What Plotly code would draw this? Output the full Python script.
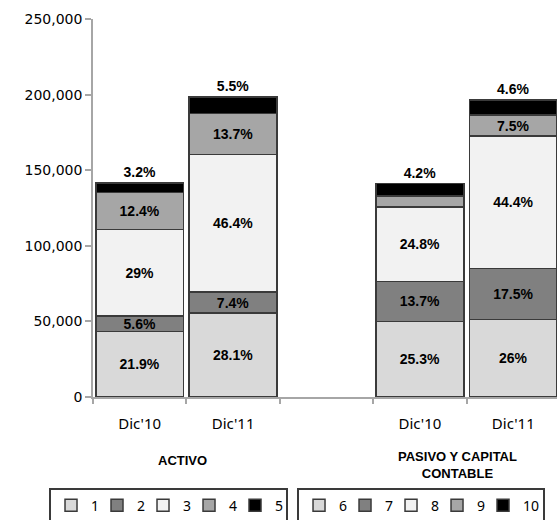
import plotly.graph_objects as go

# groups and their bar categories
GROUPS = ["ACTIVO", "PASIVO Y CAPITAL<br>CONTABLE"]
CATEGORIES = ["Dic'10", "Dic'11"]

# stacked segment values, [Dic'10, Dic'11]
S1 = [43300, 55500]
S2 = [10400, 13900]
S3 = [57000, 91100]
S4 = [24400, 26900]
S5 = [6600, 11100]
S6 = [49900, 51100]
S7 = [26600, 33800]
S8 = [49000, 87700]
S9 = [7300, 13900]
S10 = [8400, 10000]

# data labels
L1 = ["21.9%", "28.1%"]
L2 = ["5.6%", "7.4%"]
L3 = ["29%", "46.4%"]
L4 = ["12.4%", "13.7%"]
L5 = ["3.2%", "5.5%"]
L6 = ["25.3%", "26%"]
L7 = ["13.7%", "17.5%"]
L8 = ["24.8%", "44.4%"]
L9 = ["", "7.5%"]
L10 = ["4.2%", "4.6%"]

SERIES_NAMES = ["1", "2", "3", "4", "5", "6", "7", "8", "9", "10"]

Y_TICKS = [0, 50000, 100000, 150000, 200000, 250000]

COLORS = ["#d9d9d9", "#808080", "#f2f2f2", "#a6a6a6", "#000000"]
OUTLINE = "#3a3a3a"
AXIS_GRAY = "#a6a6a6"

activo = [(S1, L1), (S2, L2), (S3, L3), (S4, L4), (S5, L5)]
pasivo = [(S6, L6), (S7, L7), (S8, L8), (S9, L9), (S10, L10)]

# slot positions: two bars, empty slot, two bars
activo_x = [0, 1]
pasivo_x = [3, 4]

fig = go.Figure()

for g, (group, xs) in enumerate([(activo, activo_x), (pasivo, pasivo_x)]):
    for i, (vals, labels) in enumerate(group):
        top = i == len(group) - 1
        name = SERIES_NAMES[g * 5 + i]
        fig.add_trace(go.Bar(
            x=xs,
            y=vals,
            name=name,
            text=labels,
            textposition="outside" if top else "inside",
            insidetextanchor="middle",
            constraintext="none",
            cliponaxis=False,
            textfont=dict(family="Liberation Sans", size=14, color="black", weight="bold"),
            marker=dict(color=COLORS[i], line=dict(color=OUTLINE, width=1.5)),
            width=0.94,
            legend="legend" if g == 0 else "legend2",
            legendwidth=(6 if g == 0 else 15) if top else 1,
            hoverinfo="skip",
        ))

tick_pos = activo_x + pasivo_x
tick_text = CATEGORIES + CATEGORIES

fig.update_layout(
    barmode="stack",
    width=557,
    height=520,
    margin=dict(l=93, r=0, t=19, b=123, autoexpand=False),
    plot_bgcolor="white",
    paper_bgcolor="white",
    font=dict(family="Noto Sans", color="black"),
    xaxis=dict(
        range=[-0.5, 4.468],
        tickmode="array",
        tickvals=tick_pos,
        ticktext=tick_text,
        ticks="",
        ticklabelstandoff=12,
        tickfont=dict(family="Noto Sans", size=15, color="black"),
        showline=True,
        linecolor=AXIS_GRAY,
        linewidth=1.5,
        showgrid=False,
        zeroline=False,
        minor=dict(
            tickmode="array",
            tickvals=[-0.5, 0.5, 1.5, 2.5, 3.5, 4.5],
            ticks="outside",
            ticklen=5,
            tickcolor=AXIS_GRAY,
            tickwidth=1.5,
            showgrid=False,
        ),
    ),
    yaxis=dict(
        range=[0, 250000],
        tickmode="array",
        tickvals=Y_TICKS,
        tickformat=",",
        ticks="outside",
        ticklen=6,
        tickcolor=AXIS_GRAY,
        tickwidth=1.5,
        tickfont=dict(family="DejaVu Sans", size=14, color="black"),
        showline=True,
        linecolor=AXIS_GRAY,
        linewidth=1.5,
        showgrid=False,
        zeroline=False,
    ),
    legend=dict(
        orientation="h",
        x=-0.0948, y=-0.24,
        xanchor="left", yanchor="top",
        bordercolor=OUTLINE, borderwidth=2,
        entrywidth=1,
        font=dict(family="Noto Sans", size=14, color="black"),
        traceorder="normal",
    ),
    legend2=dict(
        orientation="h",
        x=0.4397, y=-0.24,
        xanchor="left", yanchor="top",
        bordercolor=OUTLINE, borderwidth=2,
        entrywidth=1,
        font=dict(family="Noto Sans", size=14, color="black"),
        traceorder="normal",
    ),
    annotations=[
        dict(text=f"<b>{GROUPS[0]}</b>", x=0.46, y=-0.1667, xref="x", yref="paper",
             showarrow=False, xanchor="center", yanchor="middle",
             font=dict(family="Liberation Sans", size=13, color="black")),
        dict(text=f"<b>{GROUPS[1]}</b>", x=3.4, y=-0.181, xref="x", yref="paper",
             showarrow=False, xanchor="center", yanchor="middle",
             font=dict(family="Liberation Sans", size=13, color="black")),
    ],
)

# drop the browser's default body margin so the figure fills the window
fig.write_html(
    "out.html",
    config={"displayModeBar": False},
    post_script="document.body.style.margin = '0';",
)
